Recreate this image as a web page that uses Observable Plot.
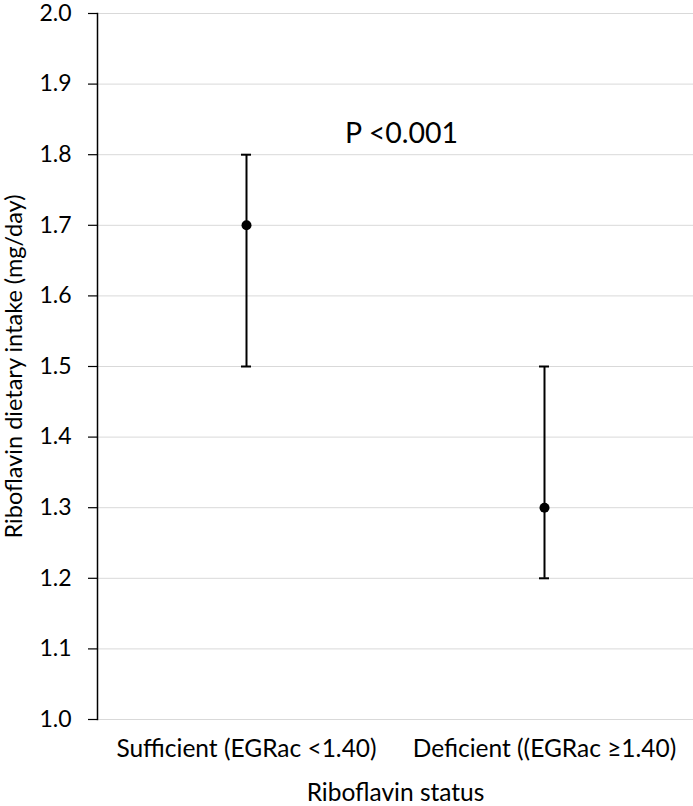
<!DOCTYPE html>
<html>
<head>
<meta charset="utf-8">
<script src="https://cdn.jsdelivr.net/npm/d3@7"></script>
<script src="https://cdn.jsdelivr.net/npm/@observablehq/plot@0.6"></script>
<style>
  html, body { margin: 0; padding: 0; background: #fff; }
  #chart svg { display: block; overflow: visible; }
</style>
</head>
<body>
<div id="chart"></div>
<script>
const categories = ["Sufficient (EGRac <1.40)", "Deficient ((EGRac \u22651.40)"];
const means = [1.7, 1.3];
const lower = [1.5, 1.2];
const upper = [1.8, 1.5];
const yTicks = [1.0, 1.1, 1.2, 1.3, 1.4, 1.5, 1.6, 1.7, 1.8, 1.9, 2.0];
const annotationText = ["P <0.001"];
const annotationY = [1.83];

const data = categories.map((c, i) => ({cat: c, mean: means[i], lo: lower[i], hi: upper[i]}));

const font = "Lato, 'Open Sans', sans-serif";

const chart = Plot.plot({
  width: 693,
  height: 806,
  marginLeft: 97,
  marginRight: 0,
  marginTop: 13,
  marginBottom: 87,
  style: {fontFamily: font, fontSize: "24px", color: "#000", background: "#fff"},
  x: {type: "band", domain: categories, padding: 0, label: null},
  y: {domain: [1.0, 2.0], label: null},
  marks: [
    Plot.gridY(yTicks, {stroke: "#d9d9d9", strokeOpacity: 1, strokeWidth: 1}),
    Plot.axisY(yTicks, {tickSize: 9, tickPadding: 17, tickFormat: d3.format(".1f"), fontSize: 23, stroke: "#000", strokeWidth: 1.2}),
    Plot.frame({anchor: "left", stroke: "#000", strokeWidth: 1.5}),
    Plot.axisX({tickSize: 0, tickPadding: 20, fontSize: 24.5, label: null}),
    Plot.text(["Riboflavin status"], {frameAnchor: "bottom", lineAnchor: "middle", dy: 74, fontSize: 24.5, text: d => d}),
    Plot.text(["Riboflavin dietary intake (mg/day)"], {frameAnchor: "left", textAnchor: "middle", lineAnchor: "middle", dx: -83, rotate: -90, fontSize: 23.5, text: d => d}),
    Plot.ruleX(data, {x: "cat", y1: "lo", y2: "hi", stroke: "#000", strokeWidth: 2}),
    Plot.tickY(data, {x: "cat", y: "lo", stroke: "#000", strokeWidth: 2, insetLeft: 144, insetRight: 144}),
    Plot.tickY(data, {x: "cat", y: "hi", stroke: "#000", strokeWidth: 2, insetLeft: 144, insetRight: 144}),
    Plot.dot(data, {x: "cat", y: "mean", r: 5, fill: "#000", stroke: "none"}),
    Plot.text(annotationText.map((t, i) => ({t, y: annotationY[i]})), {y: "y", text: "t", frameAnchor: "middle", dx: 6, fontSize: 28.5})
  ]
});
document.getElementById("chart").appendChild(chart);
</script>
</body>
</html>
